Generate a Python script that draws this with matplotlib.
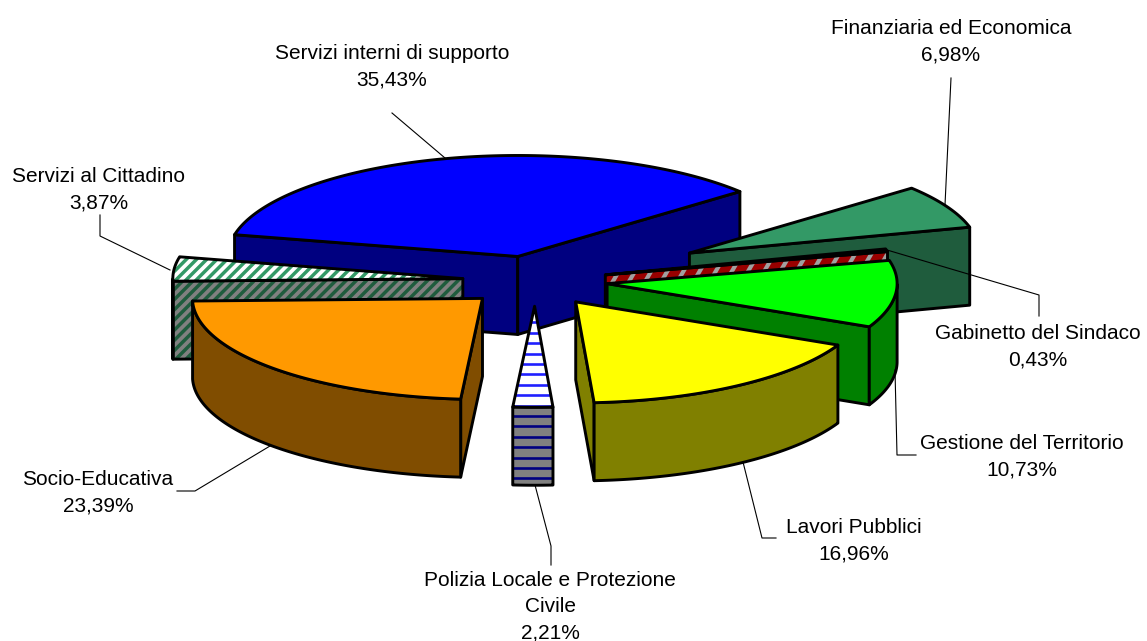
import numpy as np
import matplotlib
matplotlib.use("Agg")
import matplotlib.pyplot as plt
from matplotlib.patches import Polygon
from matplotlib.lines import Line2D

# ---- data ----
categories = ["Finanziaria ed Economica", "Gabinetto del Sindaco", "Gestione del Territorio",
              "Lavori Pubblici", "Polizia Locale e Protezione\nCivile", "Socio-Educativa",
              "Servizi al Cittadino", "Servizi interni di supporto"]
values = [6.98, 0.43, 10.73, 16.96, 2.21, 23.39, 3.87, 35.43]
labels = ["6,98%", "0,43%", "10,73%", "16,96%", "2,21%", "23,39%", "3,87%", "35,43%"]
explode = [0.6, 0.25, 0.25, 0.25, 0.25, 0.25, 0.25, 0.25]
top_colors = ["#339966", "#800000", "#00ff00", "#ffff00", "#ffffff", "#ff9900", "#ffffff", "#0000ff"]
side_colors = ["#1f5c3d", "#990000", "#008000", "#808000", "#808080", "#804d00", "#808080", "#000080"]
# stripes: (colour top, colour side, angle deg, spacing px, width pt)
stripes = {1: ("#c0c0c0", "#a0a0a0", 60, 14, 3.0),
           4: ("#2020ff", "#000080", 0, 10.4, 1.9),
           6: ("#339966", "#1f5c3d", 45, 7.2, 2.5)}
draw_order = [7, 0, 6, 1, 2, 5, 3, 4]
label_pos = [(951, 41.5), (1038, 346.5), (1022, 456.5), (854, 540.5), (550, 606.5), (98, 492.5), (99, 189.5), (392, 66.5)]
leaders = [[(951, 78), (945, 205)],
           [(1039, 316), (1039, 295), (887, 250)],
           [(916, 455), (897, 455), (895, 370)],
           [(776, 538), (762, 538), (743, 462)],
           [(551, 565), (551, 546), (535, 485)],
           [(177, 491), (195, 491), (270, 446)],
           [(100, 215), (100, 236), (170, 270)],
           [(392, 113), (445, 158)]]

# ---- geometry ----
CX, CY, A, B, DEPTH = 535.0, 281.0, 290.0, 101.0, 78.0
FIRST_ANGLE = 50.0
LW = 2.1

fig = plt.figure(figsize=(11.47, 6.41), dpi=100)
ax = fig.add_axes([0, 0, 1, 1])
ax.set_xlim(0, 1147)
ax.set_ylim(641, 0)
ax.axis("off")


def pt(theta, r=1.0):
    t = np.radians(theta)
    return np.sin(t) * A * r, -np.cos(t) * B * r


def face(points, fill, stripe=None, z=0):
    poly = Polygon(points, closed=True, facecolor=fill, edgecolor="none", zorder=z)
    ax.add_patch(poly)
    if stripe is not None:
        col, ang, sp, w = stripe
        xs, ys = np.array(points).T
        cx0, cy0 = xs.mean(), ys.mean()
        L = 1300
        a = np.radians(ang)
        d = np.array([np.cos(a), -np.sin(a)])
        n = np.array([-d[1], d[0]])
        base = round(cy0 / sp) * sp if ang == 0 else 0
        origin = np.array([cx0, base]) if ang == 0 else np.array([cx0, cy0])
        for k in range(-160, 161):
            p = origin + n * k * sp
            ln = Line2D([p[0] - L * d[0], p[0] + L * d[0]], [p[1] - L * d[1], p[1] + L * d[1]],
                        color=col, lw=w, zorder=z, solid_capstyle="butt")
            ax.add_line(ln)
            ln.set_clip_path(poly)
    ax.add_patch(Polygon(points, closed=True, facecolor="none", edgecolor="black",
                         lw=LW, joinstyle="round", zorder=z))


starts = FIRST_ANGLE + 3.6 * np.concatenate([[0], np.cumsum(values)[:-1]])
ends = FIRST_ANGLE + 3.6 * np.cumsum(values)

z = 1
for i in draw_order:
    s, e = starts[i], ends[i]
    mid = (s + e) / 2
    dx, dy = pt(mid, explode[i])
    ox, oy = CX + dx, CY + dy
    st = stripes.get(i)
    st_top = (st[0], st[2], st[3], st[4]) if st else None
    st_side = (st[1], st[2], st[3], st[4]) if st else None

    def P(th):
        x, y = pt(th)
        return ox + x, oy + y

    # cut faces
    for th, vis in ((s, np.sin(np.radians(s)) < 0), (e, np.sin(np.radians(e)) > 0)):
        if vis:
            x, y = P(th)
            face([(ox, oy), (x, y), (x, y + DEPTH), (ox, oy + DEPTH)], side_colors[i], st_side, z)
            z += 1
    # outer wall: front half of the rim only
    ths = np.linspace(s, e, 120)
    ths = ths[(-np.cos(np.radians(ths)) > 0)]
    if len(ths) > 1:
        rim = [P(t) for t in ths]
        low = [(x, y + DEPTH) for x, y in rim][::-1]
        face(rim + low, side_colors[i], st_side, z)
        z += 1
    # top
    arc = [P(t) for t in np.linspace(s, e, 160)]
    face([(ox, oy)] + arc, top_colors[i], st_top, z)
    z += 1

for line in leaders:
    xs, ys = zip(*line)
    ax.plot(xs, ys, color="black", lw=0.8, zorder=z)
z += 1

for cat, lab, (x, y) in zip(categories, labels, label_pos):
    ax.text(x, y, f"{cat}\n{lab}", ha="center", va="center", family="Liberation Sans",
            fontsize=15, linespacing=1.5, color="black", zorder=z)

fig.savefig("out.png", dpi=100)
